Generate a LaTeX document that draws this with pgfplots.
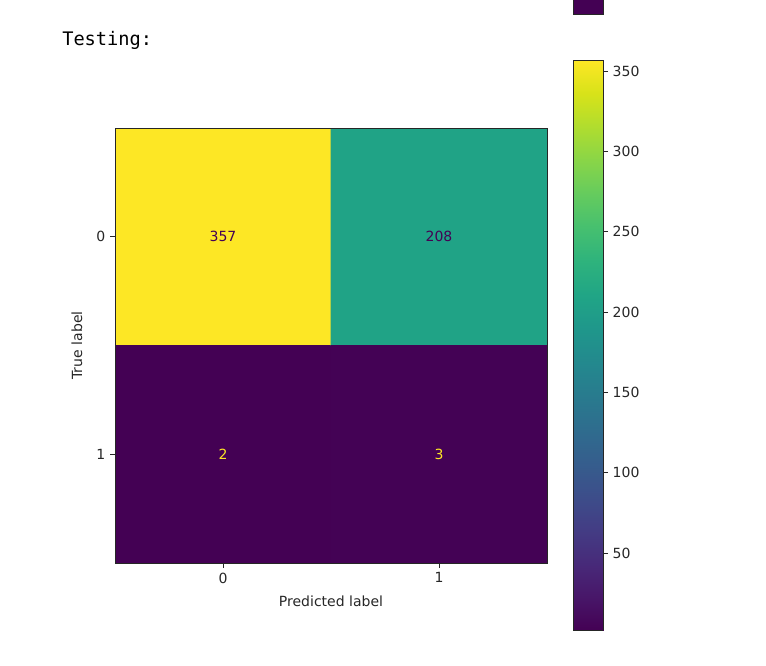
\documentclass[border=0pt]{standalone}
\usepackage{pgfplots}
\pgfplotsset{compat=1.18}
\usepackage{fontspec}
\setmainfont{DejaVu Sans}
\newfontfamily\monofont{DejaVu Sans Mono}
\definecolor{vdark}{HTML}{440154}
\definecolor{vyellow}{HTML}{FDE725}
\definecolor{axgray}{HTML}{262626}
\pgfplotsset{
  common/.style={
    scale only axis,
    tick align=outside,
    major tick length=3.75pt,
    every tick/.style={axgray, line width=0.6pt},
    axis line style={axgray, line width=0.6pt},
    /pgf/number format/assume math mode=true,
    tick label style={font=\fontsize{10.5}{12.6}\selectfont, text=axgray},
    colormap name=viridis,
    point meta min=2, point meta max=357,
  }
}
\begin{document}
\begin{tikzpicture}
\useasboundingbox (0,0) rectangle (574.5pt,-498.75pt);
\fill[vdark] (429.75pt,2pt) rectangle (452.25pt,-10.5pt);
\draw[axgray, line width=0.6pt] (429.75pt,2pt) -- (429.75pt,-10.5pt) -- (452.25pt,-10.5pt) -- (452.25pt,2pt);
\node[anchor=base west, inner sep=0pt, font=\monofont\fontsize{14}{16}\selectfont] at (46.5pt,-34pt) {Testing:};
\begin{axis}[
  common,
  at={(86.25pt,-96pt)}, anchor=north west,
  width=324pt, height=326.25pt,
  xmin=-0.5, xmax=1.5, ymin=-0.5, ymax=1.5,
  y dir=reverse,
  axis on top,
  xtick={0,1}, ytick={0,1},
  tick pos=left,
  font=\fontsize{10.5}{12.6}\selectfont,
  xlabel={Predicted label}, ylabel={True label},
  xlabel style={at={(axis description cs:0.5,-0.087)}, anchor=center, text=axgray},
  ylabel style={at={(axis description cs:-0.088,0.5)}, anchor=center, rotate=0, text=axgray},
]
\addplot[matrix plot*, point meta=explicit, mesh/cols=2] table[meta=c] {
x y c
0 0 357
1 0 208
0 1 2
1 1 3
};
\addplot[only marks, mark=none, nodes near coords, point meta=explicit symbolic,
  nodes near coords style={anchor=center, text=vdark, font=\fontsize{10.5}{12.6}\selectfont}] table[meta=t] {
x y t
0 0 357
1 0 208
};
\addplot[only marks, mark=none, nodes near coords, point meta=explicit symbolic,
  nodes near coords style={anchor=center, text=vyellow, font=\fontsize{10.5}{12.6}\selectfont}] table[meta=t] {
x y t
0 1 2
1 1 3
};
\end{axis}
\begin{axis}[
  common,
  at={(429.75pt,-45pt)}, anchor=north west,
  width=22.5pt, height=427.5pt,
  xmin=0, xmax=1, ymin=2, ymax=357,
  view={0}{90},
  axis on top,
  xtick=\empty,
  ytick={50,100,150,200,250,300,350},
  ytick pos=right, yticklabel pos=right,
]
\addplot3[surf, shader=interp, mesh/cols=2, point meta=y] table {
x y z
0 2 0
1 2 0
0 357 0
1 357 0
};
\end{axis}
\end{tikzpicture}
\end{document}
